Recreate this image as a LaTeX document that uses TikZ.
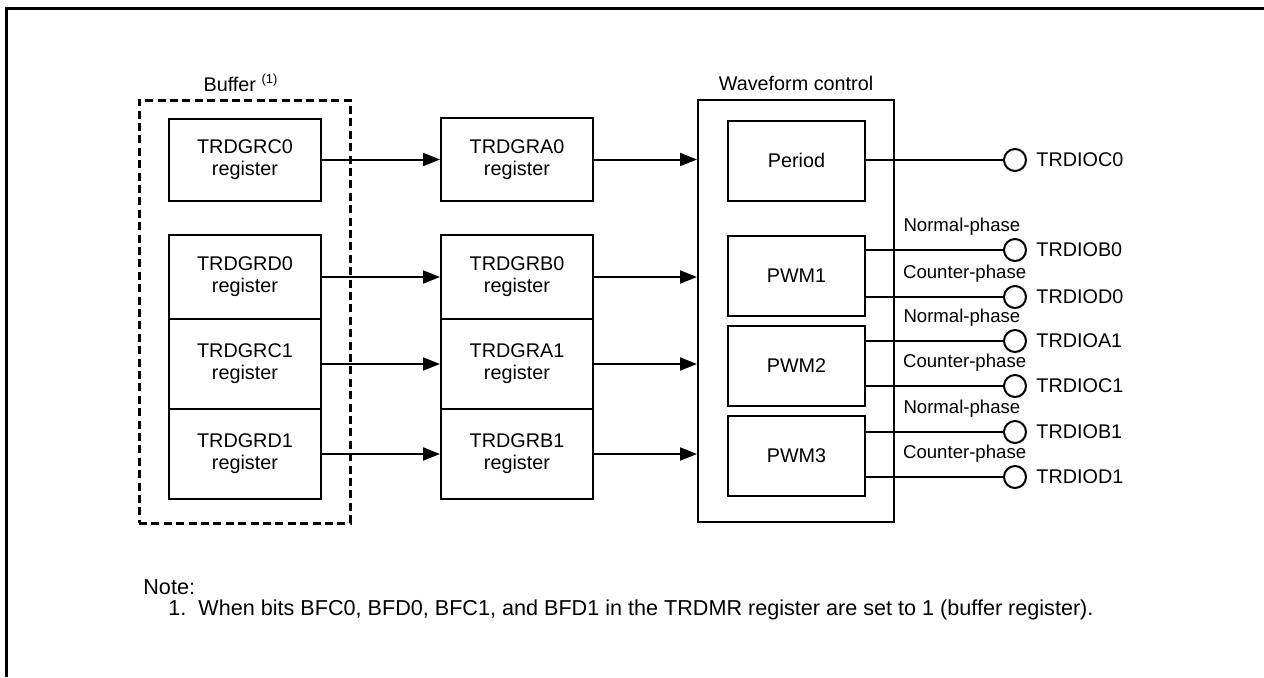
\documentclass[tikz,border=0pt]{standalone}
\usepackage{fontspec}
\setmainfont{Liberation Sans}
\usetikzlibrary{arrows.meta,positioning}

\tikzset{
  txt/.style={font=\fontsize{9.9}{11}\selectfont},
  notetxt/.style={font=\fontsize{10.8}{12}\selectfont, anchor=west, inner sep=0pt},
  regbox/.style={txt, draw, line width=1pt, align=center, minimum width=76pt, inner sep=0pt},
  ctlbox/.style={txt, draw, line width=1pt, minimum width=68.5pt, minimum height=40pt, inner sep=0pt},
  bufbox/.style={draw, line width=1.5pt, dash pattern=on 4pt off 2.2pt, minimum width=105.5pt, minimum height=211.5pt, inner sep=0pt},
  pin/.style={draw, circle, line width=1pt, minimum size=11pt, inner sep=0pt, fill=white},
  pinlbl/.style={txt, inner sep=0pt},
  phase/.style={font=\fontsize{9.3}{11}\selectfont, inner sep=0pt, yshift=11.5pt},
  arr/.style={-{Triangle[length=8.5pt,width=6.5pt]}, line width=1pt},
  wire/.style={line width=1pt}
}

\begin{document}
\begin{tikzpicture}[x=0.5pt, y=-0.5pt]
    \useasboundingbox (0,0) rectangle (1264,677);

    % Frame
    \draw[line width=1.5pt] (6.5,677) -- (6.5,8.5) -- (1264,8.5);

    % Buffer registers
    \node[bufbox] (buf) at (244.5,311.5) {};
    \node[txt] (buflbl) at (241,83) {Buffer \textsuperscript{\fontsize{6.5}{7}\selectfont(1)}};
    \node[regbox, minimum height=41pt] (grc0) at (245,159.5) {TRDGRC0\\register};
    \node[regbox, minimum height=42pt] (grd0) at (245,277) {TRDGRD0\\register};
    \node[regbox, minimum height=45pt] (grc1) at (245,364) {TRDGRC1\\register};
    \node[regbox, minimum height=45pt] (grd1) at (245,454) {TRDGRD1\\register};

    % General registers
    \node[regbox, minimum height=41.5pt] (gra0) at (517,159.5) {TRDGRA0\\register};
    \node[regbox, minimum height=42pt] (grb0) at (517,277) {TRDGRB0\\register};
    \node[regbox, minimum height=45pt] (gra1) at (517,364) {TRDGRA1\\register};
    \node[regbox, minimum height=45pt] (grb1) at (517,454) {TRDGRB1\\register};

    % Waveform control
    \node[draw, line width=1pt, minimum width=98pt, minimum height=211pt, inner sep=0pt] (wave) at (796,311) {};
    \node[txt] (wavelbl) at (796,83) {Waveform control};
    \node[ctlbox] (period) at (796.5,160.5) {Period};
    \node[ctlbox] (pwm1) at (796.5,276) {PWM1};
    \node[ctlbox] (pwm2) at (796.5,366) {PWM2};
    \node[ctlbox] (pwm3) at (796.5,456) {PWM3};

    % Output pins
    \node[pin] (pc0) at (1015,160) {};
    \node[pin] (pb0) at (1015,250) {};
    \node[pin] (pd0) at (1015,297) {};
    \node[pin] (pa1) at (1015,341) {};
    \node[pin] (pc1) at (1015,386) {};
    \node[pin] (pb1) at (1015,432) {};
    \node[pin] (pd1) at (1015,477) {};
    \node[pinlbl, right=4.5pt of pc0] {TRDIOC0};
    \node[pinlbl, right=4.5pt of pb0] {TRDIOB0};
    \node[pinlbl, right=4.5pt of pd0] {TRDIOD0};
    \node[pinlbl, right=4.5pt of pa1] {TRDIOA1};
    \node[pinlbl, right=4.5pt of pc1] {TRDIOC1};
    \node[pinlbl, right=4.5pt of pb1] {TRDIOB1};
    \node[pinlbl, right=4.5pt of pd1] {TRDIOD1};

    % Buffer to general registers
    \draw[arr] (grc0.east) -- (gra0.west);
    \draw[arr] (grd0.east) -- (grb0.west);
    \draw[arr] (grc1.east) -- (gra1.west);
    \draw[arr] (grd1.east) -- (grb1.west);

    % General registers to waveform control
    \draw[arr] (gra0.east) -- (wave.west |- gra0.east);
    \draw[arr] (grb0.east) -- (wave.west |- grb0.east);
    \draw[arr] (gra1.east) -- (wave.west |- gra1.east);
    \draw[arr] (grb1.east) -- (wave.west |- grb1.east);

    % Outputs
    \draw[wire] (period.east |- pc0) -- (pc0);
    \draw[wire] (pwm1.east |- pb0) -- (pb0) node[phase, pos=0.7] {Normal-phase};
    \draw[wire] (pwm1.east |- pd0) -- (pd0) node[phase, pos=0.72] {Counter-phase};
    \draw[wire] (pwm2.east |- pa1) -- (pa1) node[phase, pos=0.7] {Normal-phase};
    \draw[wire] (pwm2.east |- pc1) -- (pc1) node[phase, pos=0.72] {Counter-phase};
    \draw[wire] (pwm3.east |- pb1) -- (pb1) node[phase, pos=0.7] {Normal-phase};
    \draw[wire] (pwm3.east |- pd1) -- (pd1) node[phase, pos=0.72] {Counter-phase};

    % Note
    \node[notetxt] (note) at (143,587) {Note:};
    \node[notetxt] (note1) at (168,610) {1.\ \ When bits BFC0, BFD0, BFC1, and BFD1 in the TRDMR register are set to 1 (buffer register).};

\end{tikzpicture}
\end{document}
